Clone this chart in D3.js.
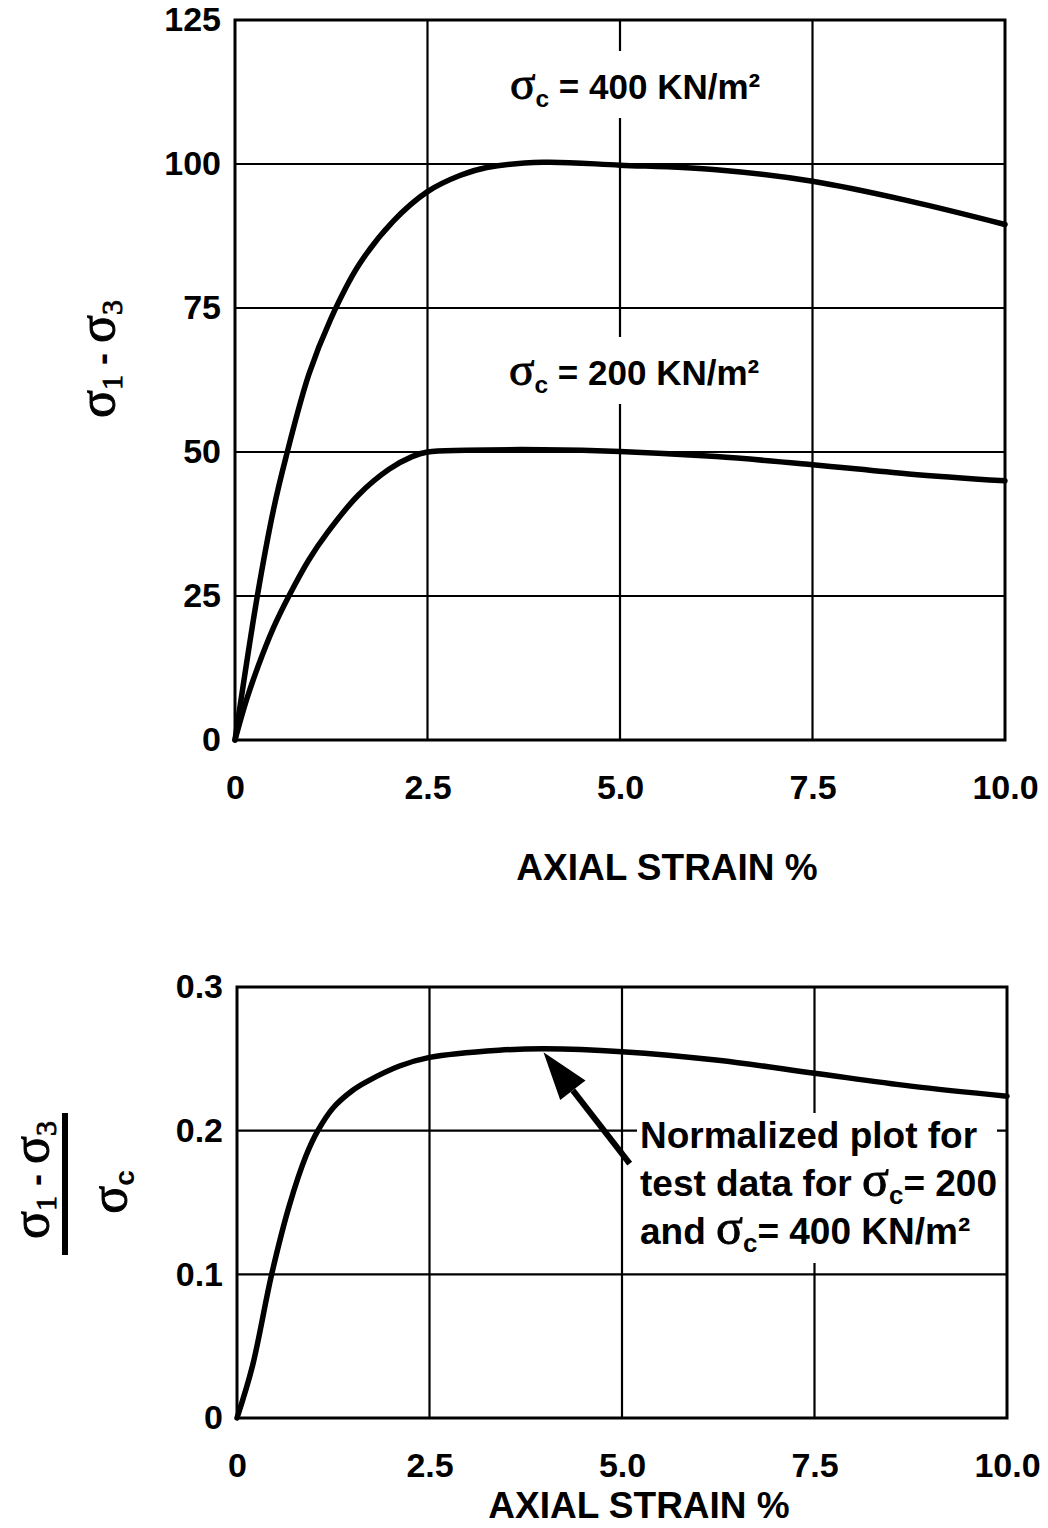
<!DOCTYPE html>
<html>
<head>
<meta charset="utf-8">
<script src="https://cdn.jsdelivr.net/npm/d3@7"></script>
<style>
  body { margin: 0; background: #fff; }
  svg { display: block; }
  text { font-family: "Liberation Sans", Arial, sans-serif; font-weight: bold; fill: #000; }
  .greek { font-family: "Liberation Serif", "DejaVu Serif", serif; font-weight: normal; stroke: #000; stroke-width: 0.9px; }
</style>
</head>
<body>
<div id="chart"></div>
<script>
// shared x axis (axial strain %)
const strainTicks = [0, 2.5, 5.0, 7.5, 10.0];
const strainTickLabels = ["0", "2.5", "5.0", "7.5", "10.0"];

// top plot: deviator stress
const stressTicks = [0, 25, 50, 75, 100, 125];

// sigma_c = 400 KN/m2
const strain400 = [0, 0.29, 0.5, 0.66, 0.96, 1.24, 1.61, 2.05, 2.5, 2.92, 3.27, 4.0, 5.0, 6.25, 7.5, 8.75, 10.0];
const stress400 = [0, 25, 40, 49, 63.5, 73, 82.5, 90, 95.2, 98, 99.4, 100.3, 99.8, 99, 97, 93.6, 89.5];

// sigma_c = 200 KN/m2
const strain200 = [0, 0.15, 0.3, 0.5, 0.7, 0.96, 1.2, 1.6, 2.0, 2.3, 2.5, 3.0, 4.0, 5.0, 6.25, 7.5, 8.75, 10.0];
const stress200 = [0, 7, 12.8, 19.5, 25, 31.3, 36, 42.5, 47, 49.2, 50, 50.3, 50.4, 50.1, 49.2, 47.8, 46.2, 45];

// bottom plot: normalized
const ratioTicks = [0, 0.1, 0.2, 0.3];
const ratioTickLabels = ["0", "0.1", "0.2", "0.3"];
const strainNorm = [0, 0.2, 0.45, 0.68, 0.9, 1.05, 1.25, 1.5, 1.68, 2.11, 2.5, 3.4, 4.0, 5.0, 6.25, 7.5, 8.75, 10.0];
const ratioNorm = [0, 0.036, 0.1, 0.148, 0.183, 0.2, 0.216, 0.228, 0.234, 0.245, 0.251, 0.256, 0.257, 0.255, 0.249, 0.24, 0.231, 0.224];

const WIDTH = 1048;
const HEIGHT = 1528;
const TOP = { LEFT: 235, RIGHT: 1005, TOP: 20, BOTTOM: 740 };
const BOT = { LEFT: 237, RIGHT: 1007, TOP: 987, BOTTOM: 1418 };

const svg = d3.select("#chart").append("svg")
  .attr("width", WIDTH)
  .attr("height", HEIGHT);

/** Scales */
const x1 = d3.scaleLinear().domain([0, 10]).range([TOP.LEFT, TOP.RIGHT]);
const y1 = d3.scaleLinear().domain([0, 125]).range([TOP.BOTTOM, TOP.TOP]);
const x2 = d3.scaleLinear().domain([0, 10]).range([BOT.LEFT, BOT.RIGHT]);
const y2 = d3.scaleLinear().domain([0, 0.3]).range([BOT.BOTTOM, BOT.TOP]);

function drawFrame(x, y, xTicks, xLabels, yTicks, yLabels) {
  const g = svg.append("g");
  const [x0, xMax] = x.range();
  const [yMin, yTop] = y.range();

  // grid
  g.append("g").selectAll("line").data(xTicks.slice(1, -1)).enter()
    .append("line")
    .attr("x1", d => x(d)).attr("x2", d => x(d))
    .attr("y1", yTop).attr("y2", yMin)
    .attr("stroke", "#000").attr("stroke-width", 2.2);
  g.append("g").selectAll("line").data(yTicks.slice(1, -1)).enter()
    .append("line")
    .attr("y1", d => y(d)).attr("y2", d => y(d))
    .attr("x1", x0).attr("x2", xMax)
    .attr("stroke", "#000").attr("stroke-width", 2.2);

  g.append("rect")
    .attr("x", x0).attr("y", yTop)
    .attr("width", xMax - x0).attr("height", yMin - yTop)
    .attr("fill", "none").attr("stroke", "#000").attr("stroke-width", 3);

  // axes, labels only
  const xAxis = g.append("g").attr("transform", `translate(0, ${yMin})`)
    .call(d3.axisBottom(x).tickValues(xTicks).tickFormat((d, i) => xLabels[i]).tickSize(0).tickPadding(35));
  const yAxis = g.append("g").attr("transform", `translate(${x0}, 0)`)
    .call(d3.axisLeft(y).tickValues(yTicks).tickFormat((d, i) => yLabels[i]).tickSize(0).tickPadding(14));
  [xAxis, yAxis].forEach(a => {
    a.select(".domain").remove();
    a.selectAll("text").attr("font-size", 34).attr("font-family", null);
  });
  return g;
}

drawFrame(x1, y1, strainTicks, strainTickLabels, stressTicks, stressTicks.map(String));
drawFrame(x2, y2, strainTicks, strainTickLabels, ratioTicks, ratioTickLabels);

/** Curves */
const curveTop = d3.line().x(d => x1(d[0])).y(d => y1(d[1])).curve(d3.curveCatmullRom.alpha(0.5));
const curveBot = d3.line().x(d => x2(d[0])).y(d => y2(d[1])).curve(d3.curveCatmullRom.alpha(0.5));

[[strain400, stress400], [strain200, stress200]].forEach(([xs, ys]) => {
  svg.append("path")
    .datum(xs.map((v, i) => [v, ys[i]]))
    .attr("d", curveTop)
    .attr("fill", "none").attr("stroke", "#000").attr("stroke-width", 5.5)
    .attr("stroke-linecap", "round");
});

svg.append("path")
  .datum(strainNorm.map((v, i) => [v, ratioNorm[i]]))
  .attr("d", curveBot)
  .attr("fill", "none").attr("stroke", "#000").attr("stroke-width", 5.5)
  .attr("stroke-linecap", "round");

/** Labels with a white knock-out box behind them */
function sigmaText(g, x, y, size, parts) {
  const t = g.append("text").attr("x", x).attr("y", y).attr("font-size", size);
  parts.forEach(p => {
    const s = t.append("tspan").text(p.t);
    if (p.greek) s.attr("class", "greek").attr("font-size", size * 1.35);
    if (p.sub) s.attr("font-size", size * 0.7).attr("dy", p.sub);
    if (p.dy) s.attr("dy", p.dy);
  });
  return t;
}

function knockout(g, pad) {
  const b = g.node().getBBox();
  g.insert("rect", ":first-child")
    .attr("x", b.x - pad[3]).attr("y", b.y - pad[0])
    .attr("width", b.width + pad[1] + pad[3])
    .attr("height", b.height + pad[0] + pad[2])
    .attr("fill", "#fff");
}

const lab400 = svg.append("g");
sigmaText(lab400, 510, 99, 35, [
  { t: "σ", greek: true }, { t: "c", sub: 8 }, { t: "  = 400 KN/m²", dy: -8 }
]);
knockout(lab400, [6, 4, 6, 4]);

const lab200 = svg.append("g");
sigmaText(lab200, 509, 385, 35, [
  { t: "σ", greek: true }, { t: "c", sub: 8 }, { t: " = 200 KN/m²", dy: -8 }
]);
knockout(lab200, [6, 4, 6, 4]);

// bottom annotation
const note = svg.append("g");
sigmaText(note, 640, 1148, 37, [{ t: "Normalized plot for" }]);
sigmaText(note, 640, 1196, 37, [
  { t: "test data for " }, { t: "σ", greek: true }, { t: "c", sub: 8 }, { t: "= 200", dy: -8 }
]);
sigmaText(note, 640, 1244, 37, [
  { t: "and " }, { t: "σ", greek: true }, { t: "c", sub: 8 }, { t: "= 400 KN/m²", dy: -8 }
]);
{
  const b = note.node().getBBox();
  const right = Math.min(b.x + b.width + 2, x2(10) - 10);
  note.insert("rect", ":first-child")
    .attr("x", b.x - 3).attr("y", b.y - 2)
    .attr("width", right - b.x + 3).attr("height", b.height + 8)
    .attr("fill", "#fff");
}

// arrow: tail near the text, tip on the curve
const arrowTail = [5.1, 0.177];
const arrowTip = [3.98, 0.2545];
{
  const tx = x2(arrowTail[0]), ty = y2(arrowTail[1]);
  const hx = x2(arrowTip[0]), hy = y2(arrowTip[1]);
  const ang = Math.atan2(hy - ty, hx - tx);
  const len = 48, half = 16;
  const bx = hx - len * Math.cos(ang), by = hy - len * Math.sin(ang);
  svg.append("line")
    .attr("x1", tx).attr("y1", ty).attr("x2", bx).attr("y2", by)
    .attr("stroke", "#000").attr("stroke-width", 6);
  const px = -Math.sin(ang) * half, py = Math.cos(ang) * half;
  svg.append("path")
    .attr("d", `M${hx},${hy}L${bx + px},${by + py}L${bx - px},${by - py}Z`)
    .attr("fill", "#000");
}

/** Axis titles */
svg.append("text").attr("x", 667).attr("y", 880).attr("text-anchor", "middle")
  .attr("font-size", 37).text("AXIAL STRAIN %");
svg.append("text").attr("x", 639).attr("y", 1518).attr("text-anchor", "middle")
  .attr("font-size", 37).text("AXIAL STRAIN %");

function sigmaDiff(g, x, y) {
  const t = g.append("text").attr("transform", `translate(${x}, ${y}) rotate(-90)`)
    .attr("text-anchor", "middle").attr("font-size", 52);
  t.append("tspan").attr("class", "greek").text("σ");
  t.append("tspan").attr("class", "greek").attr("font-size", 30).attr("dy", 8).text("1");
  t.append("tspan").attr("font-size", 36).attr("dy", -8).text(" - ");
  t.append("tspan").attr("class", "greek").text("σ");
  t.append("tspan").attr("class", "greek").attr("font-size", 30).attr("dy", 8).text("3");
  return t;
}

sigmaDiff(svg, 114, 359);

// normalized label: (sigma1 - sigma3) / sigma_c
sigmaDiff(svg, 48, 1180);
svg.append("line")
  .attr("x1", 65).attr("x2", 65).attr("y1", 1113).attr("y2", 1255)
  .attr("stroke", "#000").attr("stroke-width", 6);
{
  const t = svg.append("text").attr("transform", "translate(126, 1192) rotate(-90)")
    .attr("text-anchor", "middle").attr("font-size", 52);
  t.append("tspan").attr("class", "greek").text("σ");
  t.append("tspan").attr("font-size", 28).attr("dy", 8).text("c");
}
</script>
</body>
</html>
